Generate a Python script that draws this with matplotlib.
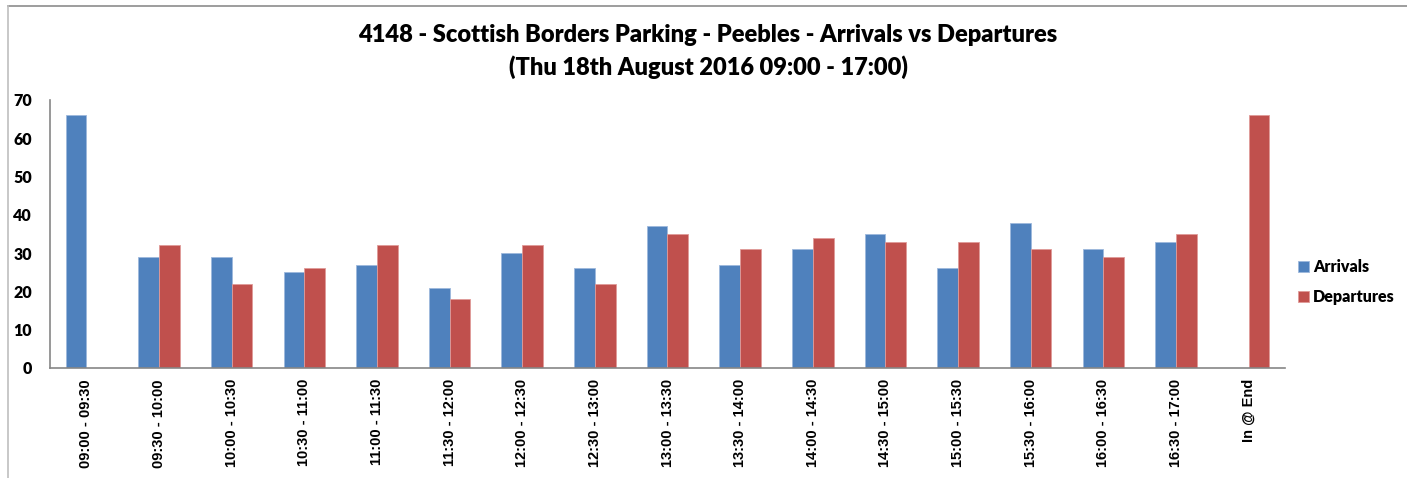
import numpy as np
import matplotlib.pyplot as plt
from matplotlib.lines import Line2D

# Half-hour periods plus the count still parked at the end
periods = ['09:00 - 09:30', '09:30 - 10:00', '10:00 - 10:30', '10:30 - 11:00',
           '11:00 - 11:30', '11:30 - 12:00', '12:00 - 12:30', '12:30 - 13:00',
           '13:00 - 13:30', '13:30 - 14:00', '14:00 - 14:30', '14:30 - 15:00',
           '15:00 - 15:30', '15:30 - 16:00', '16:00 - 16:30', '16:30 - 17:00',
           'In @ End']
arrivals = [66, 29, 29, 25, 27, 21, 30, 26, 37, 27, 31, 35, 26, 38, 31, 33, np.nan]
departures = [np.nan, 32, 22, 26, 32, 18, 32, 22, 35, 31, 34, 33, 33, 31, 29, 35, 66]

blue = '#4F81BD'
red = '#C0504D'
title_font = ['Lato', 'DejaVu Sans']
tick_font = ['Liberation Sans', 'DejaVu Sans']

fig = plt.figure(figsize=(14.07, 4.78), dpi=100)
ax = fig.add_axes([50 / 1407, 1 - 368 / 478, 1235 / 1407, 268 / 478])

x = np.arange(len(periods))
w = 1 / 3.5
ax.bar(x - w / 2, arrivals, w, color=blue, edgecolor='#9DB8DC', linewidth=0.6,
       label='Arrivals')
ax.bar(x + w / 2, departures, w, color=red, edgecolor='#E09A98', linewidth=0.6,
       label='Departures')

ax.set_xlim(-0.5, len(periods) - 0.5)
ax.set_ylim(0, 70)
ax.set_yticks(range(0, 71, 10))
ax.set_xticks(x)
ax.set_xticklabels(periods, rotation=90, fontsize=10.5, fontweight='bold',
                   family=tick_font)
for lab in ax.get_yticklabels():
    lab.set_fontsize(11.5)
    lab.set_fontweight('heavy')
    lab.set_family(title_font)
ax.tick_params(axis='x', length=0, pad=8)
ax.tick_params(axis='y', length=0, pad=13)

for side in ['top', 'right']:
    ax.spines[side].set_visible(False)
for side in ['left', 'bottom']:
    ax.spines[side].set_color('#868686')
    ax.spines[side].set_linewidth(1.2)

fig.text(708 / 1407, 1 - 35 / 478,
         '4148 - Scottish Borders Parking - Peebles - Arrivals vs Departures',
         ha='center', va='center', fontsize=17, fontweight='heavy', family=title_font)
fig.text(708 / 1407, 1 - 67 / 478, '(Thu 18th August 2016 09:00 - 17:00)',
         ha='center', va='center', fontsize=17, fontweight='heavy', family=title_font)

fig.legend(loc='center left', bbox_to_anchor=(1284 / 1407, 1 - 282 / 478),
           frameon=False, prop={'family': title_font, 'weight': 'heavy', 'size': 11.5},
           handlelength=0.65, handleheight=0.65, handletextpad=0.25, labelspacing=0.9)

# chart area outline (top and left edges)
fig.add_artist(Line2D([8 / 1407, 1], [1 - 6 / 478, 1 - 6 / 478],
                      transform=fig.transFigure, color='#8C8C8C', linewidth=1.2))
fig.add_artist(Line2D([8 / 1407, 8 / 1407], [0, 1 - 6 / 478],
                      transform=fig.transFigure, color='#BFBFBF', linewidth=1.2))

fig.savefig('out.png', dpi=100)
